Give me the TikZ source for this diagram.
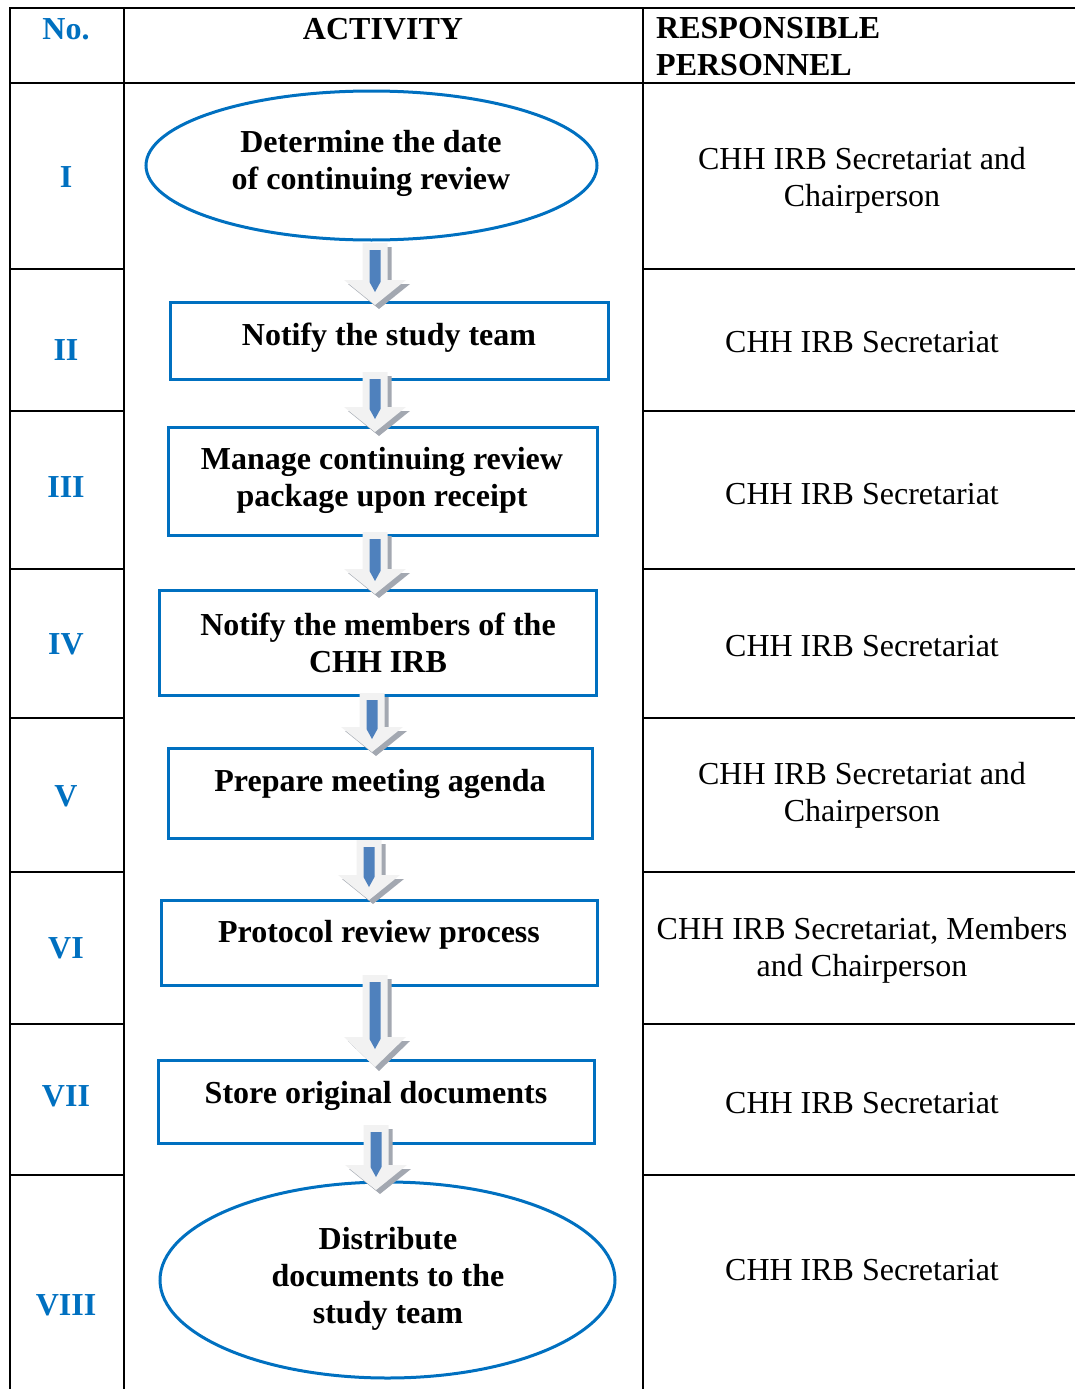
\documentclass[tikz,border=0pt]{standalone}
\usepackage{fontspec}
\setmainfont{Liberation Serif}
\usetikzlibrary{shapes.geometric}
\definecolor{cblue}{HTML}{0070C0}
\definecolor{afill}{HTML}{F2F2F2}
\definecolor{ashadow}{HTML}{A3A8B1}
\definecolor{abar}{HTML}{4F81BD}
\newcommand\blkarrow[4]{%
 \fill[ashadow] ({#1-12.5+4},{#2+4}) -- ({#1+12.5+4},{#2+4}) -- ({#1+12.5+4},{#3-#4+4}) -- ({#1+31+4},{#3-#4+4}) -- ({#1+4},{#3+4}) -- ({#1-31+4},{#3-#4+4}) -- ({#1-12.5+4},{#3-#4+4}) -- cycle;
 \fill[afill] ({#1-12.5},{#2}) -- ({#1+12.5},{#2}) -- ({#1+12.5},{#3-#4}) -- ({#1+31},{#3-#4}) -- ({#1},{#3}) -- ({#1-31},{#3-#4}) -- ({#1-12.5},{#3-#4}) -- cycle;
 \fill[abar] ({#1-5.5},{#2+7}) -- ({#1+5.5},{#2+7}) -- ({#1+5.5},{#3-#4+2}) -- ({#1},{#3-#4+12}) -- ({#1-5.5},{#3-#4+2}) -- cycle;
}
\begin{document}
\begin{tikzpicture}[x=1pt,y=-1pt,
  txt/.style={font=\fontsize{32}{37}\selectfont, align=center, inner sep=0pt},
  btxt/.style={txt, font=\fontsize{32}{37}\selectfont\bfseries},
  num/.style={btxt, text=cblue},
  grid/.style={line width=2.5pt, black},
  shp/.style={draw=cblue, line width=3pt, inner sep=0pt},
  box/.style={shp, rectangle},
  ell/.style={shp, ellipse}]
\useasboundingbox (0,0) rectangle (1075,1389);
% table
\draw[grid] (10,1389) -- (10,8) -- (1075,8);
\draw[grid] (10,83) -- (1075,83);
\draw[grid] (124,8) -- (124,1389);
\draw[grid] (643,8) -- (643,1389);
\foreach \yy in {269,411,569,718,872,1024,1175}{
  \draw[grid] (10,\yy) -- (124,\yy);
  \draw[grid] (643,\yy) -- (1075,\yy);
}
% header
\node[num] (hno) at (66,29) {No.};
\node[btxt] (hact) at (383,29) {ACTIVITY};
\node[btxt, anchor=west, align=left] (hres) at (656,47) {RESPONSIBLE\\PERSONNEL};
% numerals
\node[num] (n1) at (66,177) {I};
\node[num] (n2) at (66,350) {II};
\node[num] (n3) at (66,487) {III};
\node[num] (n4) at (66,644) {IV};
\node[num] (n5) at (66,796) {V};
\node[num] (n6) at (66,948) {VI};
\node[num] (n7) at (66,1096) {VII};
\node[num] (n8) at (66,1305) {VIII};
% shapes
\node[ell, minimum width=451pt, minimum height=149pt] (s1) at (371.5,165.5) {};
\node[box, minimum width=438pt, minimum height=77pt] (s2) at (389,340.5) {};
\node[box, minimum width=429pt, minimum height=108pt] (s3) at (382.5,481) {};
\node[box, minimum width=437pt, minimum height=105pt] (s4) at (377.5,642.5) {};
\node[box, minimum width=424pt, minimum height=90pt] (s5) at (380,793) {};
\node[box, minimum width=436pt, minimum height=85pt] (s6) at (379,942.5) {};
\node[box, minimum width=436pt, minimum height=83pt] (s7) at (376,1101.5) {};
\node[ell, minimum width=455pt, minimum height=196pt] (s8) at (387.5,1280) {};
% shape texts
\node[btxt] (t1) at (371,163) {Determine the date\\of continuing review};
\node[btxt] (t2) at (389,338) {Notify the study team};
\node[btxt] (t3) at (382,480) {Manage continuing review\\package upon receipt};
\node[btxt] (t4) at (378,643) {Notify the members of the\\CHH IRB};
\node[btxt] (t5) at (380,784) {Prepare meeting agenda};
\node[btxt] (t6) at (379,935) {Protocol review process};
\node[btxt] (t7) at (376,1096) {Store original documents};
\node[btxt] (t8) at (388,1279) {Distribute\\documents to the\\study team};
% arrows
\blkarrow{375}{243}{305}{25}
\blkarrow{375}{372}{432}{25}
\blkarrow{375}{532}{594}{25}
\blkarrow{372}{693}{752}{25}
\blkarrow{369}{840}{900}{25}
\blkarrow{375}{975}{1067}{30}
\blkarrow{376}{1125}{1190}{25}
% responsible
\node[txt] (r1) at (862,180) {CHH IRB Secretariat and\\Chairperson};
\node[txt] (r2) at (862,342) {CHH IRB Secretariat};
\node[txt] (r3) at (862,494) {CHH IRB Secretariat};
\node[txt] (r4) at (862,646) {CHH IRB Secretariat};
\node[txt] (r5) at (862,795) {CHH IRB Secretariat and\\Chairperson};
\node[txt] (r6) at (862,950) {CHH IRB Secretariat, Members\\and Chairperson};
\node[txt] (r7) at (862,1103) {CHH IRB Secretariat};
\node[txt] (r8) at (862,1270) {CHH IRB Secretariat};
\end{tikzpicture}
\end{document}
